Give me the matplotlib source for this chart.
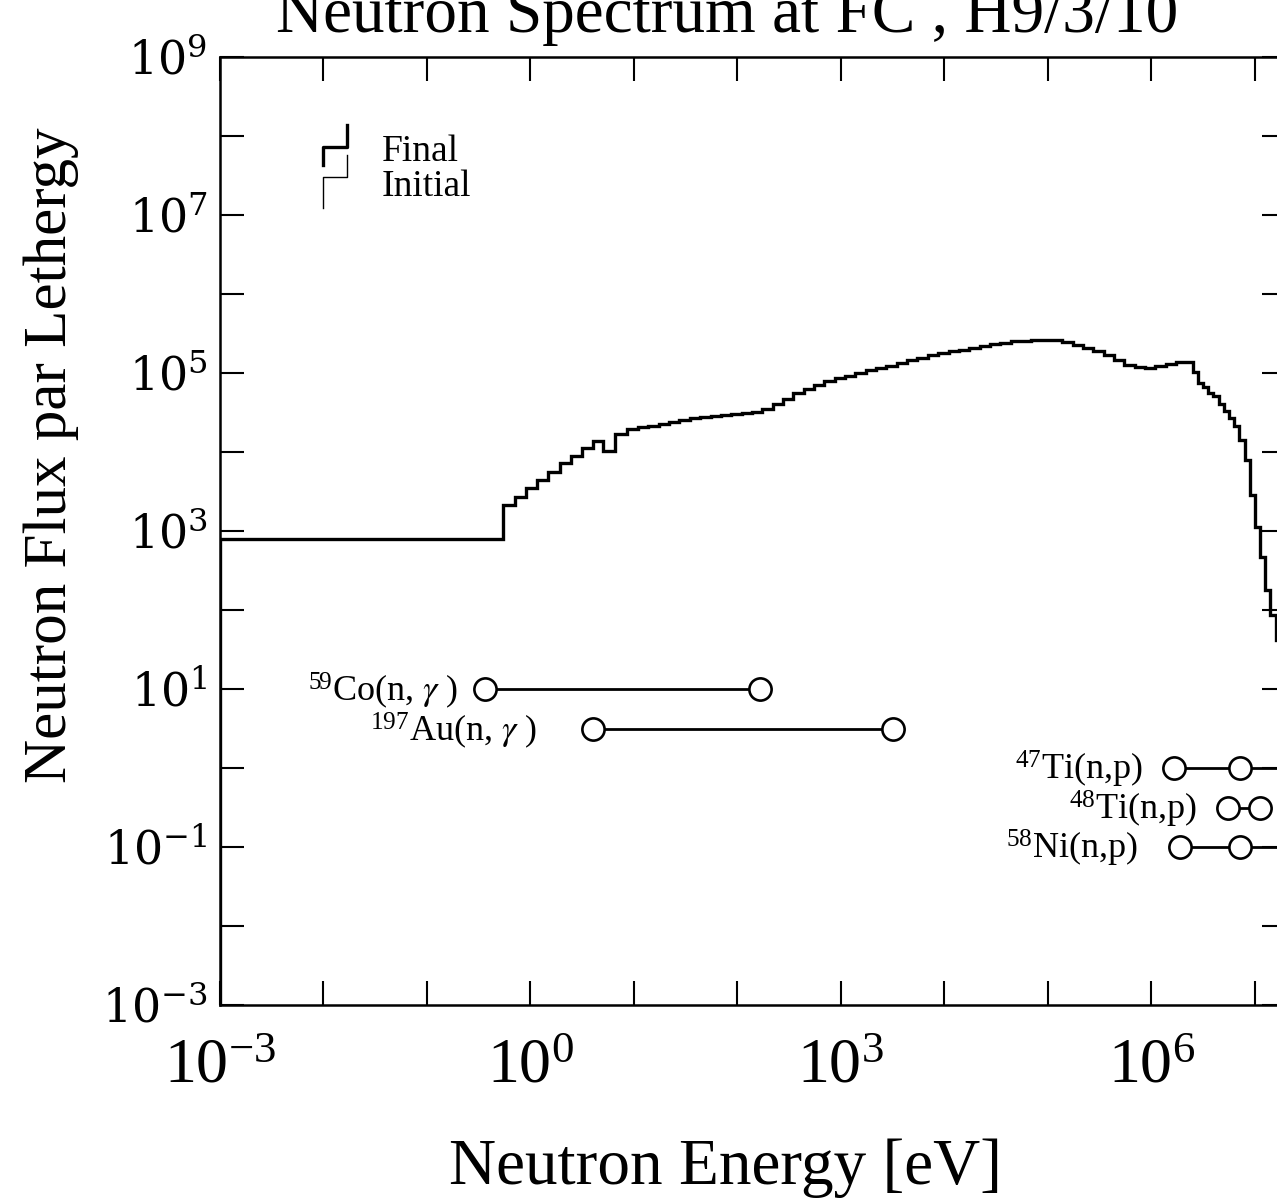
import numpy as np
import matplotlib
matplotlib.use('Agg')
import matplotlib.pyplot as plt
from matplotlib.ticker import FixedLocator, FuncFormatter, NullLocator

plt.rcParams['font.family'] = ['Liberation Serif', 'DejaVu Serif']
plt.rcParams['mathtext.fontset'] = 'stix'

# spectrum: group boundaries [eV] and flux per lethargy in each group
energy_edges = [1e-3, 0.54, 0.71, 0.91, 1.16, 1.48, 1.93, 2.46, 3.14, 4.02, 5.01, 6.54, 8.55,
                10.96, 13.80, 17.38, 21.88, 27.54, 34.67, 43.65, 54.95, 69.18, 87.10,
                109.6, 138.0, 173.8, 218.8, 275.4, 346.7, 436.5, 549.5, 691.8, 871.0,
                1096, 1380, 1738, 2188, 2754, 3467, 4365, 5495, 6918, 8710,
                1.096e4, 1.380e4, 1.738e4, 2.188e4, 2.754e4, 3.467e4, 4.365e4, 5.495e4, 6.918e4, 8.710e4,
                1.096e5, 1.380e5, 1.738e5, 2.188e5, 2.754e5, 3.467e5, 4.365e5, 5.495e5, 6.918e5, 8.710e5,
                1.096e6, 1.380e6, 1.738e6, 2.188e6, 2.512e6, 2.818e6, 3.162e6, 3.548e6, 3.981e6,
                4.467e6, 5.012e6, 5.623e6, 6.310e6, 7.079e6, 7.943e6, 8.913e6, 1.0e7, 1.122e7,
                1.259e7, 1.413e7, 1.585e7, 2.0e7]
flux = [790, 2130, 2690, 3500, 4420, 5590, 7260, 8890, 11200, 13800, 10300, 16900, 19500,
        21000, 21600, 22400, 24100, 25300, 26900, 28100, 28600, 29200, 30300,
        31200, 32100, 35000, 40500, 46900, 55800, 62700, 70500, 80300, 87700,
        92900, 100000, 107600, 115700, 124400, 133800, 144000, 154800, 166600, 176600,
        187200, 198300, 210200, 219700, 229500, 239900, 250600, 257800, 261600, 261600,
        259500, 246700, 226000, 207000, 189800, 169000, 146200, 126300, 119100, 115700,
        122700, 130000, 137800, 137800, 103000, 74700, 66500, 55800, 51200,
        40500, 33000, 26900, 21300, 14200, 7900, 2860, 1120,
        470, 179, 86, 42]

# activation reactions: energy range of response [eV] and plotting level
reaction_labels = [r'$\mathregular{^{59}Co(n{,}\ }\gamma\mathregular{\ )}$',
                   r'$\mathregular{^{197}Au(n{,}\ }\gamma\mathregular{\ )}$',
                   r'$\mathregular{^{47}Ti(n{,}p)}$',
                   r'$\mathregular{^{48}Ti(n{,}p)}$',
                   r'$\mathregular{^{58}Ni(n{,}p)}$']
reaction_E = [[0.36, 165], [4.0, 3180], [1.65e6, 7.2e6, 2.5e7], [5.5e6, 1.12e7], [1.88e6, 7.2e6, 2.5e7]]
reaction_level = [10, 3.1, 1.0, 0.31, 0.1]
label_offset = [-19, -40, -22, -22, -30]

fig = plt.figure(figsize=(12.77, 12.01), dpi=100)
ax = fig.add_axes([0.17228, 0.16320, 0.83477, 0.78934])

ax.stairs(flux, energy_edges, color='k', lw=2.4)   # Final
ax.stairs(flux, energy_edges, color='k', lw=1.0)   # Initial

for lab, E, lev, off in zip(reaction_labels, reaction_E, reaction_level, label_offset):
    ax.plot(E, [lev] * len(E), color='k', lw=2.0, marker='o', ms=16, mfc='white',
            mec='k', mew=1.9, markevery=[0, 1], zorder=3)
    ax.annotate(lab, xy=(E[0], lev), xytext=(off, -1), textcoords='offset points',
                ha='right', va='center', fontsize=26)

ax.set_xscale('log')
ax.set_yscale('log')
ax.set_xlim(1e-3, 2e7)
ax.set_ylim(1e-3, 1e9)

ax.xaxis.set_major_locator(FixedLocator([10.0 ** k for k in range(-3, 8)]))
ax.yaxis.set_major_locator(FixedLocator([10.0 ** k for k in range(-3, 10)]))
ax.xaxis.set_minor_locator(NullLocator())
ax.yaxis.set_minor_locator(NullLocator())

def fmt_x(v, pos):
    k = int(round(np.log10(v)))
    return r'$\mathregular{10^{%d}}$' % k if k % 3 == 0 else ''

def fmt_y(v, pos):
    k = int(round(np.log10(v)))
    return r'$\mathregular{10^{%d}}$' % k if k % 2 != 0 else ''

ax.xaxis.set_major_formatter(FuncFormatter(fmt_x))
ax.yaxis.set_major_formatter(FuncFormatter(fmt_y))
ax.tick_params(which='both', direction='in', top=True, right=True, length=17, width=1.5)
ax.tick_params(axis='x', labelsize=46, pad=24)
ax.tick_params(axis='y', labelsize=33, pad=9, labelfontfamily='DejaVu Serif')
for s in ax.spines.values():
    s.set_linewidth(1.8)

ax.set_xlabel('Neutron Energy [eV]', fontsize=47, va='center')
ax.xaxis.set_label_coords(0.474, -0.172)
ax.set_ylabel('Neutron Flux par Lethergy', fontsize=44, va='center')
ax.yaxis.set_label_coords(-0.158, 0.58)

fig.text(0.5693, 0.9735, 'Neutron Spectrum at FC , H9/3/10', fontsize=47, ha='center', va='baseline')

# legend drawn by hand (step symbols)
ax.plot([0.1191, 0.1191, 0.0966, 0.0966], [0.9283, 0.9051, 0.9051, 0.8861],
        transform=ax.transAxes, color='k', lw=2.4)
ax.plot([0.1191, 0.1191, 0.0966, 0.0966], [0.8966, 0.8734, 0.8734, 0.8407],
        transform=ax.transAxes, color='k', lw=1.0)
ax.text(0.152, 0.8998, 'Final', transform=ax.transAxes, fontsize=27, va='center')
ax.text(0.152, 0.8629, 'Initial', transform=ax.transAxes, fontsize=27, va='center')

fig.savefig('out.png', dpi=100)
